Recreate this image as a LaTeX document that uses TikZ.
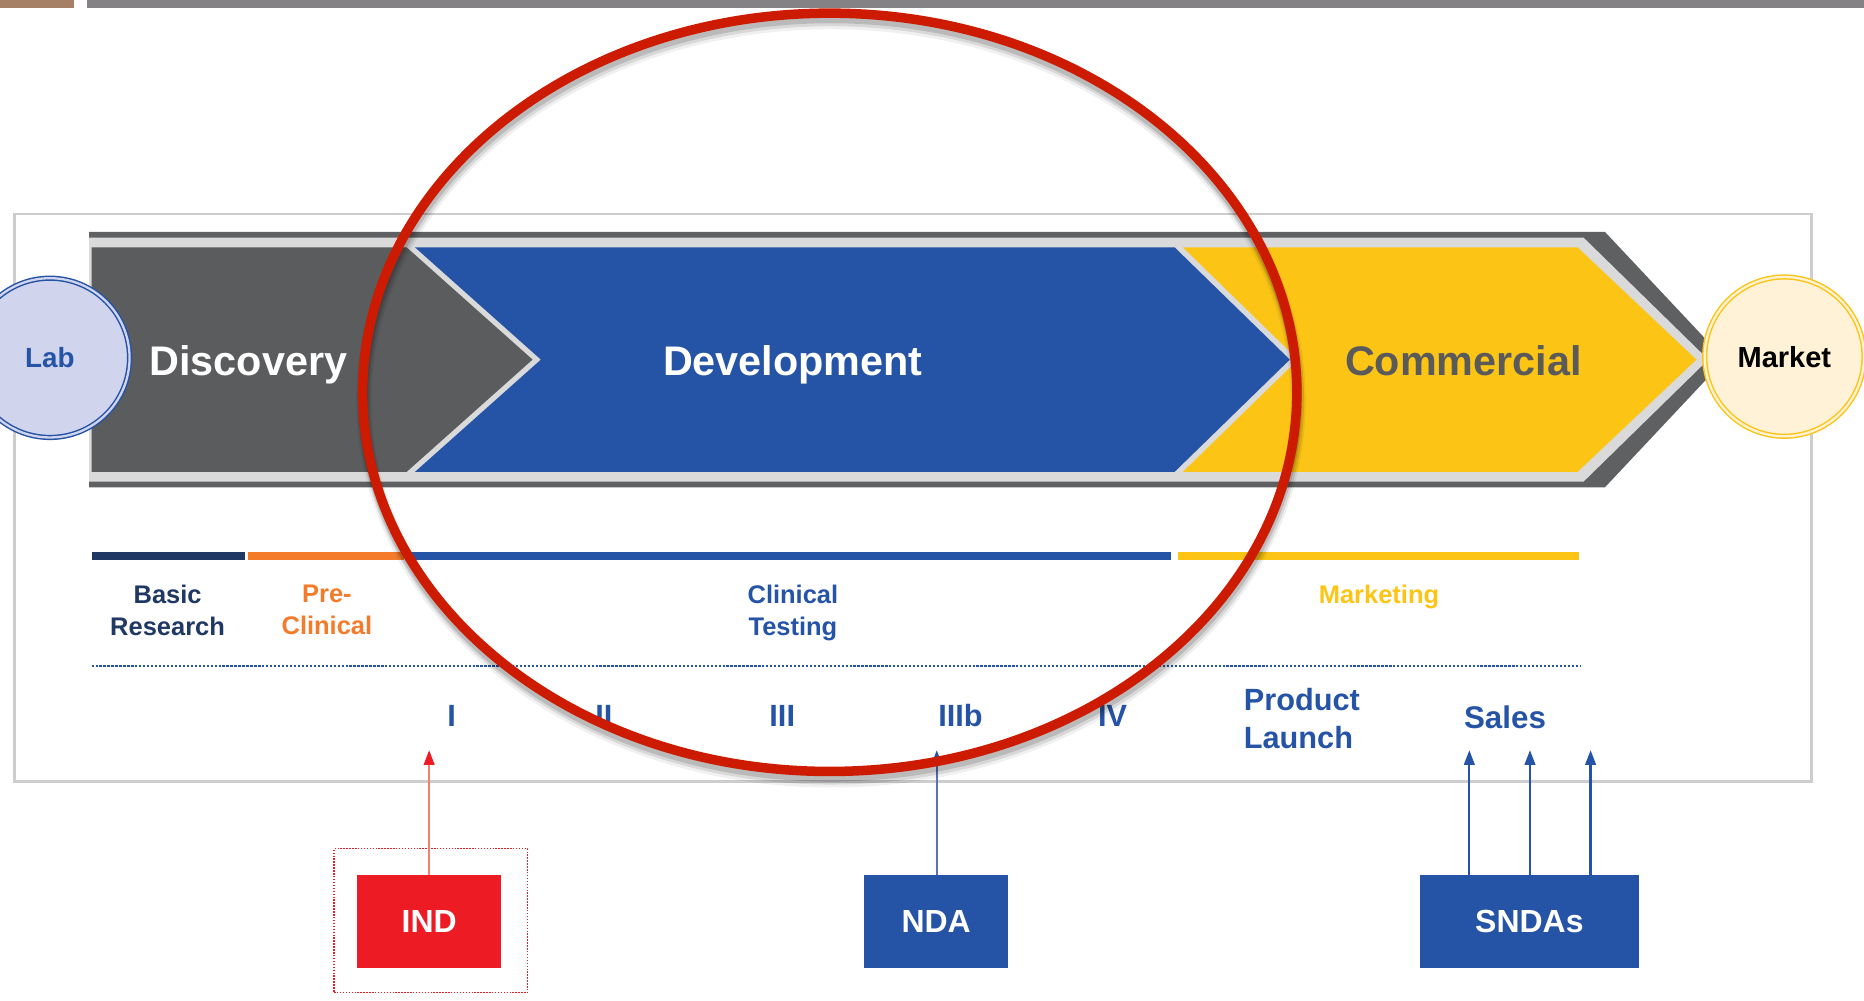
\documentclass[tikz,border=0pt]{standalone}
\usepackage{fontspec}
\setmainfont{Liberation Sans}
\usetikzlibrary{arrows.meta}

\definecolor{cblue}{RGB}{37,83,165}
\definecolor{cyellow}{RGB}{252,197,22}
\definecolor{cgray}{RGB}{91,92,94}
\definecolor{cdark}{RGB}{95,96,98}
\definecolor{clight}{RGB}{218,218,218}
\definecolor{cnavy}{RGB}{31,56,100}
\definecolor{corange}{RGB}{244,123,42}
\definecolor{cred}{RGB}{237,28,36}
\definecolor{ellred}{RGB}{204,27,0}
\definecolor{labfill}{RGB}{208,212,236}
\definecolor{marketfill}{RGB}{255,242,214}
\definecolor{framegray}{RGB}{205,205,205}
\definecolor{topbrown}{RGB}{166,128,102}
\definecolor{topgray}{RGB}{132,130,133}
\definecolor{comtext}{RGB}{90,90,90}
\definecolor{salmon}{RGB}{242,130,110}
\definecolor{lineblue}{RGB}{88,114,184}

\begin{document}
\begin{tikzpicture}[x=0.02cm,y=-0.02cm,
  chevtext/.style={font=\fontsize{19.8}{24}\selectfont\bfseries, inner sep=0, anchor=base},
  stagelbl/.style={font=\fontsize{12.2}{15}\selectfont\bfseries, align=center, inner sep=0, anchor=north},
  phase/.style={font=\fontsize{14.7}{18.1}\selectfont\bfseries, text=cblue, inner sep=0, anchor=base},
  filing/.style={font=\fontsize{15.3}{18}\selectfont\bfseries, text=white, inner sep=0, minimum height=1.56cm},
  endpoint/.style={circle, inner sep=0, minimum size=2.68cm, line width=0.7pt, double distance=1.1pt},
  uparrow/.style={line width=1.1pt},
  bar/.style={line width=0.14cm},
  ring/.style={x radius=7.86cm, y radius=6.38cm},
]
\useasboundingbox (0,0) rectangle (1568,842);
\clip (0,0) rectangle (1568,842);

% header strip
\fill[topbrown] (0,0) rectangle (62,7);
\fill[topgray] (73,0) rectangle (1568,6.5);

% outer frame
\draw[framegray, line width=1.2pt] (12,180) rectangle (1524,657.5);

% big arrow: dark rim, light band, three stages
\fill[cdark] (75,195) -- (1350,195) -- (1451,302.5) -- (1350,410) -- (75,410) -- cycle;
\fill[clight] (75,199.8) -- (1332,199.8) -- (1437,302.5) -- (1332,405.2) -- (75,405.2) -- cycle;
\fill[cgray] (77,208) -- (342,208) -- (448,302.5) -- (342,397) -- (77,397) -- cycle;
\fill[cblue] (349,208) -- (988,208) -- (1085,302.5) -- (988,397) -- (349,397) -- (455,302.5) -- cycle;
\fill[cyellow] (995,208) -- (1327,208) -- (1427,302.5) -- (1327,397) -- (995,397) -- (1092,302.5) -- cycle;

\node[chevtext, text=white] (discovery) at (209,316) {Discovery};
\node[chevtext, text=white] (development) at (667,316) {Development};
\node[chevtext, text=comtext] (commercial) at (1231,316) {Commercial};

% end points
\node[endpoint, fill=labfill, draw=cblue, double=labfill, text=cblue,
      font=\fontsize{13.3}{16}\selectfont\bfseries] (lab) at (42,301) {Lab};
\node[endpoint, fill=marketfill, draw=cyellow, double=marketfill, text=black,
      font=\fontsize{13.9}{16}\selectfont\bfseries] (market) at (1501,300) {Market};

% stage bars
\draw[bar, cnavy] (77,467.5) -- (206,467.5);
\draw[bar, corange] (209,467.5) -- (340,467.5);
\draw[bar, cblue] (345,467.5) -- (985,467.5);
\draw[bar, cyellow] (991,467.5) -- (1328,467.5);

\node[stagelbl, text=cnavy] (basic) at (141,492) {Basic\\Research};
\node[stagelbl, text=corange] (preclin) at (275,492) {Pre-\\Clinical};
\node[stagelbl, text=cblue] (clintest) at (667,492) {Clinical\\Testing};
\node[stagelbl, text=cyellow] (marketing) at (1160,492) {Marketing};

% dotted divider
\draw[cblue, line width=1pt, dash pattern=on 1.1pt off 0.8pt] (77,560) -- (1330,560);

% phases
\node[phase] (ph1) at (380,611) {I};
\node[phase] (ph2) at (508,611) {II};
\node[phase] (ph3) at (658,611) {III};
\node[phase] (ph3b) at (808,611) {IIIb};
\node[phase] (ph4) at (936,611) {IV};
\node[phase, anchor=north west, align=left] (launch) at (1046,578.5) {Product\\Launch};
\node[phase, font=\fontsize{15}{18}\selectfont\bfseries] (sales) at (1266,613) {Sales};

% filings
\node[draw=cred, dash pattern=on 0.7pt off 0.7pt, line width=0.6pt,
      minimum width=3.26cm, minimum height=2.42cm, inner sep=0] (indframe) at (362.5,774.5) {};
\node[filing, fill=cred, minimum width=2.42cm] (ind) at (361,775) {IND};
\node[filing, fill=cblue, minimum width=2.42cm] (nda) at (787.5,775) {NDA};
\node[filing, fill=cblue, minimum width=3.68cm] (sndas) at (1286.5,775) {SNDAs};

\coordinate (indtip) at (361,631);
\coordinate (ndatip) at (788,631);
\coordinate (salesA) at (1236,631);
\coordinate (salesB) at (1287,631);
\coordinate (salesC) at (1338,631);

\draw[uparrow, salmon, -{Triangle[width=5pt,length=7pt,color=cred]}] (ind.north) -- (indtip);
\draw[uparrow, lineblue, -{Triangle[width=5pt,length=7pt,color=cblue]}] (ndatip |- nda.north) -- (ndatip);
\draw[uparrow, cblue, -{Triangle[width=5pt,length=7pt]}] (salesA |- sndas.north) -- (salesA);
\draw[uparrow, cblue, -{Triangle[width=5pt,length=7pt]}] (salesB |- sndas.north) -- (salesB);
\draw[uparrow, cblue, -{Triangle[width=5pt,length=7pt]}] (salesC |- sndas.north) -- (salesC);

% highlight ring with a soft shadow below it
\draw[black, opacity=0.06, line width=0.26cm] (699,337) ellipse [ring];
\draw[black, opacity=0.10, line width=0.20cm] (699,336) ellipse [ring];
\draw[black, opacity=0.14, line width=0.16cm] (698.5,334.5) ellipse [ring];
\draw[ellred, line width=0.16cm] (698,330) ellipse [ring];
\end{tikzpicture}
\end{document}
